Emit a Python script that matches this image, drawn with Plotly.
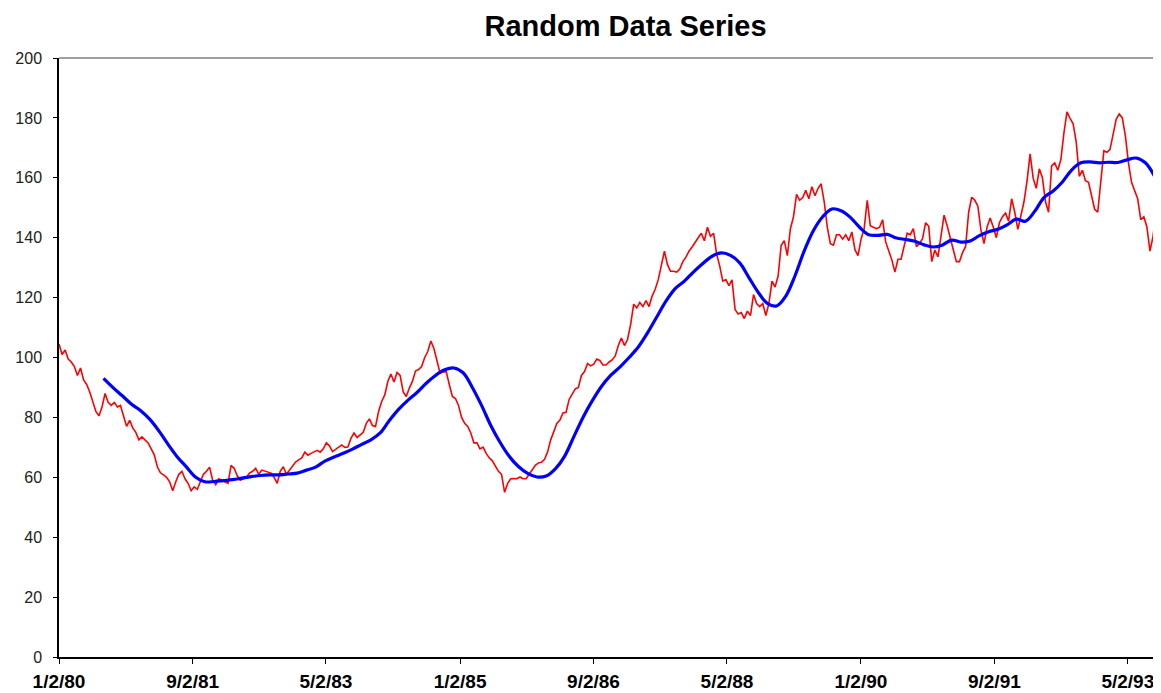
import pandas as pd
import plotly.graph_objects as go

# red series: one reading every 14 days from 1/2/80
red_start = "1980-01-02"
red_step = "14D"
red_values = [
    104.5, 101, 102.5, 99.5, 98.5, 97, 94, 96.5, 92.5, 91,
    88.5, 85.5, 82, 80.5, 83.5, 88, 85, 84, 85, 83.5,
    84, 80.5, 77, 79, 76.5, 75, 72.5, 73.5, 72.5, 71.5,
    69.5, 67.5, 63.5, 61.5, 60.8, 60, 58.5, 55.5, 58.5, 61,
    62, 59.5, 58, 55.5, 56.8, 56, 58.5, 61, 62, 63.4,
    59, 57.5, 59.5, 59, 58.5, 58, 64, 63, 60.5, 59,
    59.5, 60, 61.4, 62, 63, 61, 62.4, 62, 61.6, 61.4,
    60, 58, 62, 63.5, 61, 62.4, 64, 65.1, 65.8, 66.5,
    68.4, 67.4, 68, 68.6, 69, 68.4, 69.5, 71.5, 70.5, 68.6,
    69.3, 70.1, 70.8, 70, 70.1, 73, 74.8, 73.3, 74, 75,
    78, 79.5, 77.3, 77, 82, 85.3, 87.5, 92, 94.5, 91.8,
    95, 94, 88.5, 87, 89.8, 92, 95.5, 96, 97, 100,
    102, 105.5, 103, 98.5, 94.8, 95.2, 95.3, 91, 87, 86.3,
    84, 80, 78, 77, 74.8, 71.5, 71.5, 69.5, 70.1, 68,
    66.5, 65.5, 63.5, 62, 61, 55, 58, 59.5, 59.6, 59.5,
    60.1, 59.5, 59.5, 61, 62.4, 64, 64.8, 65, 66, 68.5,
    72.5, 75, 78, 79.1, 81.5, 81.7, 86, 87.8, 89.5, 90,
    94, 95.3, 98, 97.2, 97.8, 99.5, 99, 97.5, 97.5, 98.5,
    99.2, 100.5, 104, 106.5, 104, 106, 111, 117.8, 116.6, 118.4,
    117, 119, 117, 120.5, 122.8, 126, 131, 135.5, 131, 128.8,
    128.8, 128.5, 129.5, 132, 133.5, 135.5, 136.9, 138.6, 140, 141.5,
    139, 143.5, 140.5, 141.5, 134.5, 130.5, 125.5, 126, 124, 125.9,
    116, 114.5, 115, 113, 115.5, 114, 121, 118, 117, 118,
    114, 118, 125.5, 123.5, 127.2, 137.5, 139, 134, 143, 147,
    154.5, 152.5, 153.4, 155.8, 153, 157, 154, 156.5, 158, 152,
    143.5, 138, 137.5, 141, 141, 139.5, 141, 139, 141.9, 136,
    134, 139.6, 143, 152.5, 144, 143.5, 143, 143.5, 146, 138.6,
    135.5, 132.6, 128.5, 132.8, 132.8, 137, 141.5, 141, 143, 137,
    138, 139.7, 145, 143.8, 132, 135.9, 133.6, 140.5, 147.5, 144,
    139.5, 136, 132, 132, 135, 137, 148.5, 153.5, 152.5, 150.5,
    142.5, 138, 143.6, 146.6, 143.6, 140, 145, 147, 148.2, 145.5,
    153, 148.5, 142.8, 147.5, 152, 159, 168, 159.8, 156.5, 163,
    160, 152, 148.5, 164, 165, 162.5, 166, 175, 182, 179.8,
    178, 172, 160.5, 162.5, 159, 158.5, 154, 149.5, 148.5, 158,
    169, 168.5, 169.5, 174.5, 179.5, 181.3, 180, 174, 165, 158.5,
    155.4, 153, 146, 147, 143.6, 135.5, 140.5, 148.5,
]

# blue smoothed series: one reading every 42 days
blue_start = "1980-07-23"
blue_step = "42D"
blue_values = [
    93, 90, 87.3, 84.5, 82.3, 79.4, 75.5, 71, 66.8, 63.4,
    60, 58.5, 58.6, 58.9, 59.2, 59.7, 60.2, 60.6, 60.8, 60.8,
    61.1, 61.4, 62.4, 63.4, 65.4, 66.8, 68, 69.4, 71, 72.5,
    74.8, 79, 82.7, 85.7, 88.3, 91.4, 94, 95.9, 96.5, 94.9,
    90, 84, 77.3, 71.7, 67, 63.6, 61.3, 60.1, 60.4, 62.8,
    67, 73.5, 80, 85.5, 90.3, 94, 96.8, 100, 103.5, 108.2,
    113.5, 118.8, 123, 125.5, 128.6, 131.4, 133.8, 134.9, 134.1, 131.6,
    126.7, 121.8, 118.1, 117.2, 120.5, 127.3, 135.6, 142.4, 147, 149.6,
    149, 146.8, 143.5, 141, 140.8, 141.1, 139.9, 139.4, 138.8, 137.6,
    136.9, 137.6, 139.2, 138.5, 138.9, 140.7, 142, 142.8, 144.3, 146.2,
    145.5, 148.8, 153.4, 155.6, 158.6, 162.6, 165, 165.3, 165, 165.2,
    165.1, 166, 166.6, 165, 160.5,
]

tick_dates = ["1980-01-02", "1981-09-02", "1983-05-02", "1985-01-02", "1986-09-02",
              "1988-05-02", "1990-01-02", "1991-09-02", "1993-05-02"]
tick_labels = ["1/2/80", "9/2/81", "5/2/83", "1/2/85", "9/2/86",
               "5/2/88", "1/2/90", "9/2/91", "5/2/93"]

red_dates = pd.date_range(red_start, periods=len(red_values), freq=red_step)
blue_dates = pd.date_range(blue_start, periods=len(blue_values), freq=blue_step)

fig = go.Figure()
fig.add_trace(go.Scatter(x=red_dates, y=red_values, mode="lines",
                         line=dict(color="#ff0000", width=1.6), showlegend=False))
fig.add_trace(go.Scatter(x=blue_dates, y=blue_values, mode="lines",
                         line=dict(color="#0000ff", width=3.2, shape="spline"),
                         showlegend=False))

# page body has an 8px margin, so the figure is trimmed by that amount
fig.update_layout(
    width=1153,
    height=685,
    margin=dict(l=51, r=4, t=50, b=36, autoexpand=False),
    paper_bgcolor="white",
    plot_bgcolor="white",
    title=dict(text="Random Data Series", x=0.516, xref="paper", y=0.9737, yanchor="middle",
               font=dict(family="Arial, Liberation Sans", size=29, color="black", weight="bold")),
    xaxis=dict(
        range=["1980-01-02", "1993-09-12"],
        tickmode="array", tickvals=tick_dates, ticktext=tick_labels,
        showgrid=False, zeroline=False, automargin=False,
        showline=True, linecolor="black", linewidth=1.5,
        ticks="outside", ticklen=5, tickcolor="black", ticklabelstandoff=1,
        tickfont=dict(family="Arial, Liberation Sans", size=19, color="black", weight="bold"),
    ),
    yaxis=dict(
        range=[0, 200], dtick=20,
        showgrid=False, zeroline=False, automargin=False,
        showline=True, linecolor="black", linewidth=1.5,
        ticks="outside", ticklen=4, tickcolor="black", ticklabelstandoff=8,
        tickfont=dict(family="Arial, Liberation Sans", size=16, color="#222222"),
    ),
    shapes=[
        dict(type="line", xref="paper", yref="paper", x0=0, x1=1, y0=1, y1=1,
             line=dict(color="#808080", width=1.5)),
        dict(type="line", xref="paper", yref="paper", x0=1, x1=1, y0=0, y1=1,
             line=dict(color="#808080", width=1.5)),
    ],
)

fig.write_html("out.html")
